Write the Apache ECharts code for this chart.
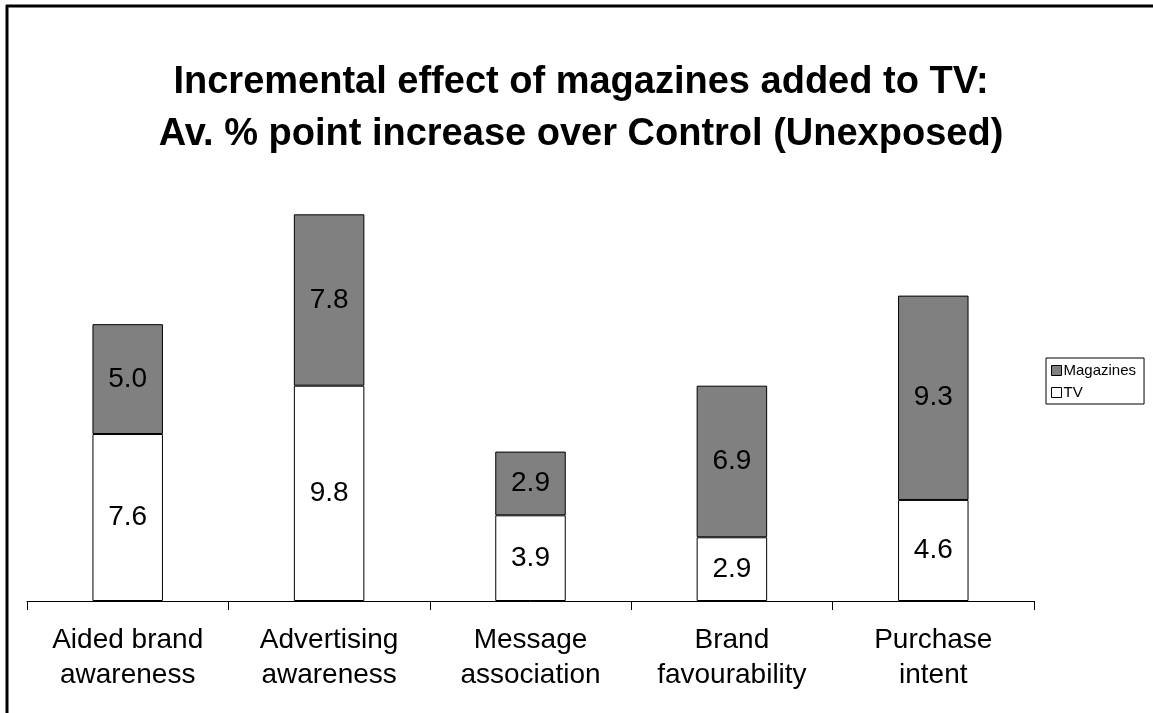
<!DOCTYPE html>
<html>
<head>
<meta charset="utf-8">
<script src="https://cdn.jsdelivr.net/npm/echarts@6/dist/echarts.min.js"></script>
<style>
html,body{margin:0;padding:0;background:#fff;}
#chart{width:1153px;height:713px;}
</style>
</head>
<body>
<div id="chart"></div>
<script>
const categories = ['Aided brand\nawareness', 'Advertising\nawareness', 'Message\nassociation', 'Brand\nfavourability', 'Purchase\nintent'];
const tvValues = [7.6, 9.8, 3.9, 2.9, 4.6];
const magazineValues = [5.0, 7.8, 2.9, 6.9, 9.3];
const titleText = 'Incremental effect of magazines added to TV:\nAv. % point increase over Control (Unexposed)';

const FONT = 'Liberation Sans, Arial, Helvetica, sans-serif';
const chart = echarts.init(document.getElementById('chart'), null, {renderer: 'canvas'});
const labelStyle = {
  show: true,
  position: 'inside',
  fontFamily: FONT,
  fontSize: 28,
  color: '#000',
  formatter: p => p.value.toFixed(1)
};
chart.setOption({
  animation: false,
  backgroundColor: '#fff',
  title: {
    text: titleText,
    left: 576,
    top: 52,
    textAlign: 'center',
    textStyle: {
      fontFamily: FONT,
      fontSize: 38,
      fontWeight: 'bold',
      color: '#000',
      lineHeight: 52
    }
  },
  legend: {
    data: ['Magazines', 'TV'],
    orient: 'vertical',
    left: 1046,
    top: 358,
    width: 100,
    itemWidth: 10,
    itemHeight: 10,
    itemGap: 5,
    padding: [4, 8, 3, 5],
    borderColor: '#000',
    borderWidth: 1,
    icon: 'rect',
    itemStyle: {borderColor: '#000', borderWidth: 1},
    textStyle: {fontFamily: FONT, fontSize: 15, color: '#000', padding: [0, 0, 0, -3], lineHeight: 17}
  },
  grid: {left: 27, right: 1153 - 1034, top: 161.6, bottom: 713 - 601, containLabel: false},
  xAxis: {
    type: 'category',
    data: categories,
    boundaryGap: true,
    axisLine: {lineStyle: {color: '#000', width: 1}},
    axisTick: {show: true, length: 9, lineStyle: {color: '#000'}},
    axisLabel: {
      fontFamily: FONT,
      fontSize: 28,
      color: '#000',
      lineHeight: 35,
      margin: 22,
      interval: 0
    }
  },
  yAxis: {
    type: 'value',
    min: 0,
    max: 20,
    show: false,
    splitLine: {show: false}
  },
  series: [
    {
      name: 'TV',
      type: 'bar',
      stack: 'total',
      data: tvValues,
      barWidth: '35%',
      itemStyle: {color: '#ffffff', borderColor: '#000', borderWidth: 1},
      label: labelStyle
    },
    {
      name: 'Magazines',
      type: 'bar',
      stack: 'total',
      data: magazineValues,
      barWidth: '35%',
      itemStyle: {color: '#808080', borderColor: '#000', borderWidth: 1},
      label: labelStyle
    }
  ],
  graphic: [
    {type: 'line', shape: {x1: 6, y1: 6, x2: 1153, y2: 6}, style: {stroke: '#000', lineWidth: 3}},
    {type: 'line', shape: {x1: 7, y1: 5, x2: 7, y2: 713}, style: {stroke: '#000', lineWidth: 3}}
  ]
});
</script>
</body>
</html>
